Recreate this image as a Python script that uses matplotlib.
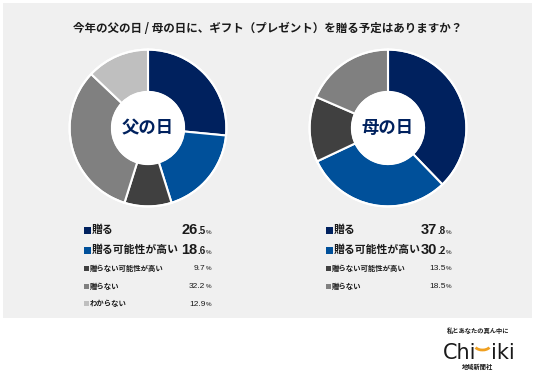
import matplotlib
matplotlib.use("Agg")
import matplotlib.pyplot as plt
from matplotlib.patches import Rectangle, Circle, Arc

plt.rcParams['font.family'] = ['Noto Sans CJK JP', 'DejaVu Sans']

# データ
labels_father = ['贈る', '贈る可能性が高い', '贈らない可能性が高い', '贈らない', 'わからない']
values_father = [26.5, 18.6, 9.7, 32.2, 12.9]
labels_mother = ['贈る', '贈る可能性が高い', '贈らない可能性が高い', '贈らない']
values_mother = [37.8, 30.2, 13.5, 18.5]
colors = ['#00215e', '#00509a', '#404040', '#808080', '#bfbfbf']
title = '今年の父の日 / 母の日に、ギフト（プレゼント）を贈る予定はありますか？'

W, H = 536, 381
fig = plt.figure(figsize=(W / 100, H / 100), dpi=100)
fig.patch.set_facecolor('white')
renderer = fig.canvas.get_renderer()

# ピクセル座標のオーバーレイ（左上原点）
axo = fig.add_axes([0, 0, 1, 1], zorder=0)
axo.set_xlim(0, W)
axo.set_ylim(H, 0)
axo.axis('off')

# 背景パネル
axo.add_patch(Rectangle((3, 3), 529, 315, facecolor='#f0f0f0', edgecolor='none'))

axo.text(268, 28, title, ha='center', va='center',
         fontsize=8.3, fontweight='bold', color='#1a1a1a')


def donut(cx, cy, values, center_label):
    r = 80
    ax = fig.add_axes([(cx - r) / W, 1 - (cy + r) / H, 2 * r / W, 2 * r / H], zorder=2)
    ax.pie(values, colors=colors[:len(values)], startangle=90, counterclock=False,
           radius=1, wedgeprops=dict(width=0.54, edgecolor='white', linewidth=1.5))
    ax.add_patch(Circle((0, 0), 0.47, facecolor='white', edgecolor='none'))
    ax.add_patch(Circle((0, 0), 1.0, facecolor='none', edgecolor='white', linewidth=1.5))
    ax.text(0, 0, center_label, ha='center', va='center', fontsize=12.5,
            fontweight='bold', color='#00215e')
    ax.set_xlim(-1.02, 1.02)
    ax.set_ylim(-1.02, 1.02)
    ax.set_aspect('equal')
    ax.axis('off')


donut(148, 128, values_father, '父の日')
donut(388, 128, values_mother, '母の日')

NUM_FONT = 'Liberation Sans'


def right_text(x, y, s, **kw):
    """右端 x に置き、左端の x を返す"""
    t = axo.text(x, y, s, ha='right', va='baseline', color='#1a1a1a',
                 family=NUM_FONT, **kw)
    bb = t.get_window_extent(renderer)
    x0 = axo.transData.inverted().transform((bb.x0, bb.y0))[0]
    return x0


def legend(x_sq, x_pct, labels, values):
    rows_y = [230, 250, 268, 286, 303]
    for i, (lab, val) in enumerate(zip(labels, values)):
        y = rows_y[i]
        big = i < 2
        sq = 7 if big else 5
        axo.add_patch(Rectangle((x_sq, y - sq / 2), sq, sq,
                                facecolor=colors[i], edgecolor='none'))
        fs = 7.8 if big else 5.3
        axo.text(x_sq + sq + 1, y, lab, ha='left', va='center',
                 fontsize=fs, fontweight='bold', color='#1a1a1a')
        whole, frac = f'{val:.1f}'.split('.')
        if big:
            base = y + 3.5
            x = right_text(x_pct, base, '%', fontsize=4.5)
            x = right_text(x, base, '.' + frac, fontsize=7, fontweight='bold')
            right_text(x, base, whole, fontsize=10.5, fontweight='bold')
        else:
            base = y + 2.5
            x = right_text(x_pct, base, '%', fontsize=4.5)
            right_text(x, base, whole + '.' + frac, fontsize=6)


legend(84, 211, labels_father, values_father)
legend(326, 451, labels_mother, values_mother)

# ロゴ
axo.text(478, 330, '私とあなたの真ん中に', ha='center', va='center',
         fontsize=4.5, fontweight='bold', color='#1a1a1a')
axo.text(443, 359, 'Chi', ha='left', va='baseline', fontsize=15,
         color='#1a1a1a', family='DejaVu Sans')
axo.text(515, 359, 'iki', ha='right', va='baseline', fontsize=15,
         color='#1a1a1a', family='DejaVu Sans')
axo.add_patch(Arc((482.5, 345), 16, 10, theta1=20, theta2=160,
                  color='#f0a020', linewidth=2))
axo.text(478, 366, '地域新聞社', ha='center', va='center',
         fontsize=4.5, fontweight='bold', color='#1a1a1a')

fig.savefig('out.png', dpi=100, facecolor=fig.get_facecolor())
